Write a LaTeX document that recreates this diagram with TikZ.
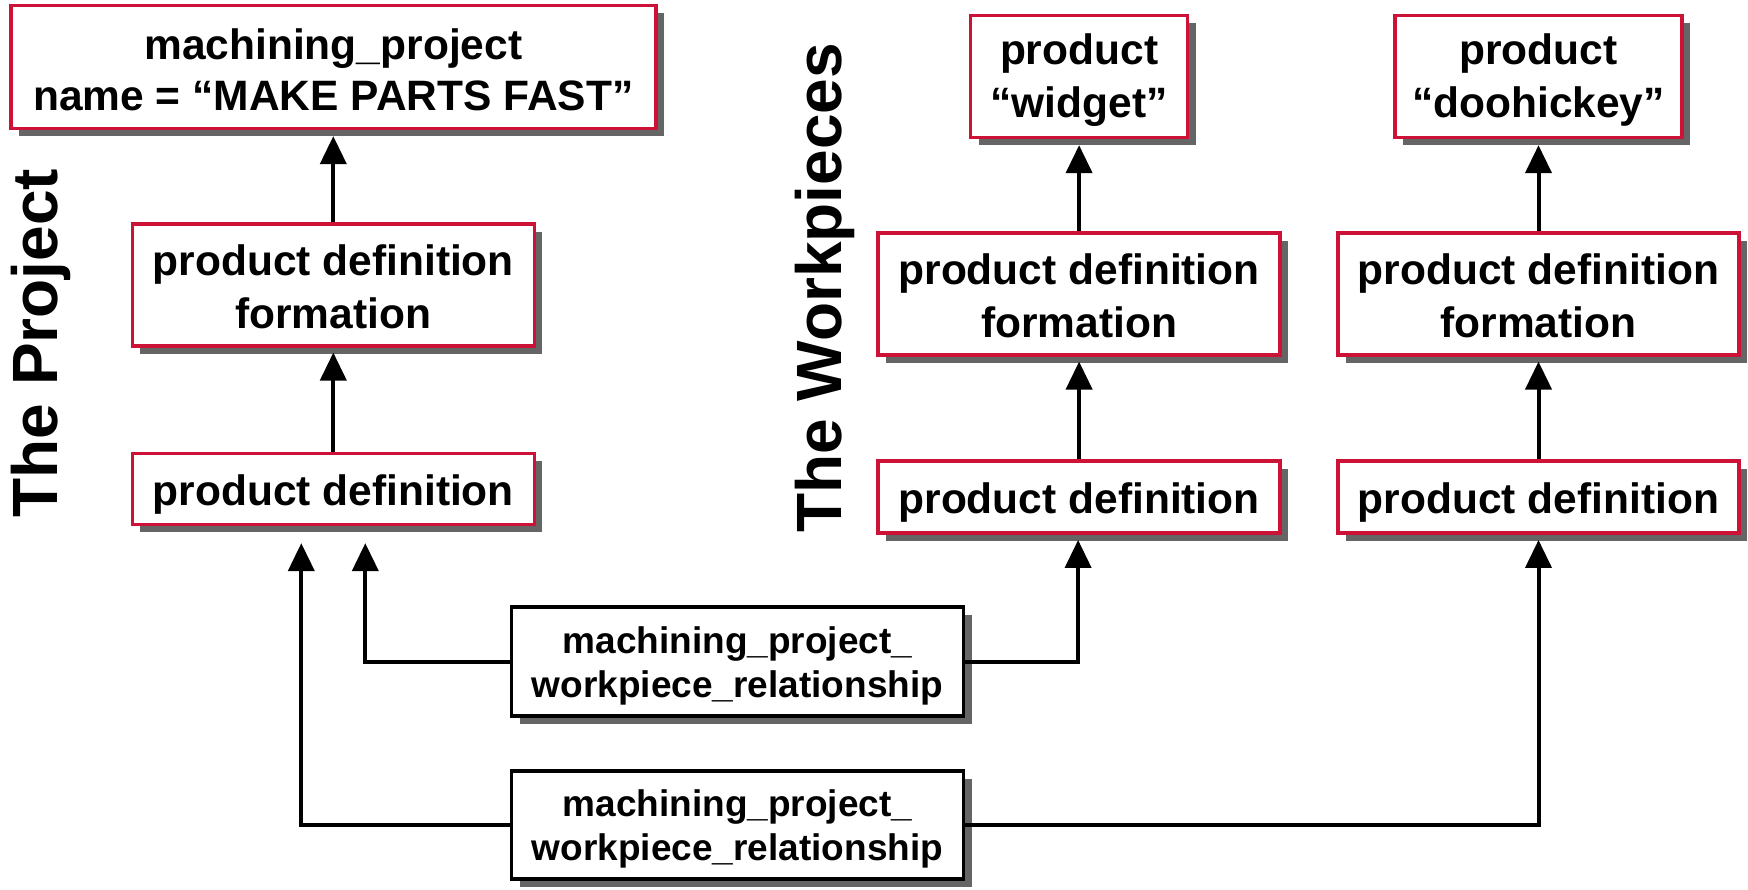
\documentclass[tikz,border=0pt]{standalone}
\usepackage{fontspec}
\setmainfont{Liberation Sans}
\usetikzlibrary{arrows.meta,shadows}
\definecolor{boxred}{HTML}{CC1236}
\definecolor{shade}{HTML}{656565}
% invisible strut that lowers the first line of a box
\newcommand\lift[1]{\rule{0pt}{#1}}
\tikzset{
  boxbase/.style={draw, line width=3.5pt, fill=white, inner sep=0pt, align=center,
    font=\fontsize{42.5}{53}\selectfont\bfseries,
    drop shadow={shadow xshift=8pt, shadow yshift=-8pt, opacity=1, fill=shade}},
  entity/.style={boxbase, draw=boxred},
  relation/.style={boxbase, draw=black, font=\fontsize{37}{44.5}\selectfont\bfseries},
  link/.style={line width=4pt, -{Triangle[width=26pt,length=28pt]}},
  sidelabel/.style={rotate=90, anchor=base, inner sep=0pt, font=\fontsize{64}{70}\selectfont\bfseries}
}
\begin{document}
\begin{tikzpicture}[x=1pt,y=-1pt]
\useasboundingbox (0,0) rectangle (1748,889);

% side captions
\node[sidelabel] (lblproj) at (57,343) {The Project};
\node[sidelabel] (lblwork) at (841,288) {The Workpieces};

% project column
\node[entity, font=\fontsize{42.5}{51}\selectfont\bfseries, minimum width=645pt, minimum height=123pt] (proj) at (333.3,66.9)
  {\lift{36pt}machining\_project\\name = “MAKE PARTS FAST”};
\node[entity, minimum width=402pt, minimum height=122pt] (pdfA) at (333.3,284.8)
  {\lift{35pt}product definition\\formation};
\node[entity, minimum width=402pt, minimum height=71pt] (pdA) at (333.3,488.9)
  {\lift{42pt}product definition};

% widget column
\node[entity, minimum width=217pt, minimum height=122pt] (prodB) at (1079.1,76.4)
  {\lift{38pt}product\\“widget”};
\node[entity, minimum width=402pt, minimum height=122pt] (pdfB) at (1079.1,293.8)
  {\lift{35pt}product definition\\formation};
\node[entity, minimum width=402pt, minimum height=72pt] (pdB) at (1079.1,497.2)
  {\lift{42pt}product definition};

% doohickey column
\node[entity, minimum width=287pt, minimum height=122pt] (prodC) at (1538.5,76.4)
  {\lift{38pt}product\\“doohickey”};
\node[entity, minimum width=401pt, minimum height=122pt] (pdfC) at (1538.5,293.8)
  {\lift{35pt}product definition\\formation};
\node[entity, minimum width=401pt, minimum height=72pt] (pdC) at (1538.5,497.2)
  {\lift{42pt}product definition};

% relationship boxes
\node[relation, minimum width=452pt, minimum height=109pt] (relB) at (737.5,661.6)
  {\lift{35pt}machining\_project\_\\workpiece\_relationship};
\node[relation, minimum width=452pt, minimum height=108pt] (relC) at (737.5,825)
  {\lift{35pt}machining\_project\_\\workpiece\_relationship};

% vertical links inside each column
\draw[link] (pdA.north) -- ([yshift=-5pt]pdfA.south);
\draw[link] (pdfA.north) -- ([yshift=-6pt]proj.south);
\draw[link] (pdB.north) -- ([yshift=-5pt]pdfB.south);
\draw[link] (pdfB.north) -- ([yshift=-6pt]prodB.south);
\draw[link] (pdC.north) -- ([yshift=-5pt]pdfC.south);
\draw[link] (pdfC.north) -- ([yshift=-6pt]prodC.south);

% relationships to project and workpieces
\draw[link] (relB.west) -| ([xshift=32pt,yshift=-17pt]pdA.south);
\draw[link] (relB.east) -| ([xshift=-1pt,yshift=-5pt]pdB.south);
\draw[link] (relC.west) -| ([xshift=-32pt,yshift=-17pt]pdA.south);
\draw[link] (relC.east) -| ([yshift=-5pt]pdC.south);
\end{tikzpicture}
\end{document}
